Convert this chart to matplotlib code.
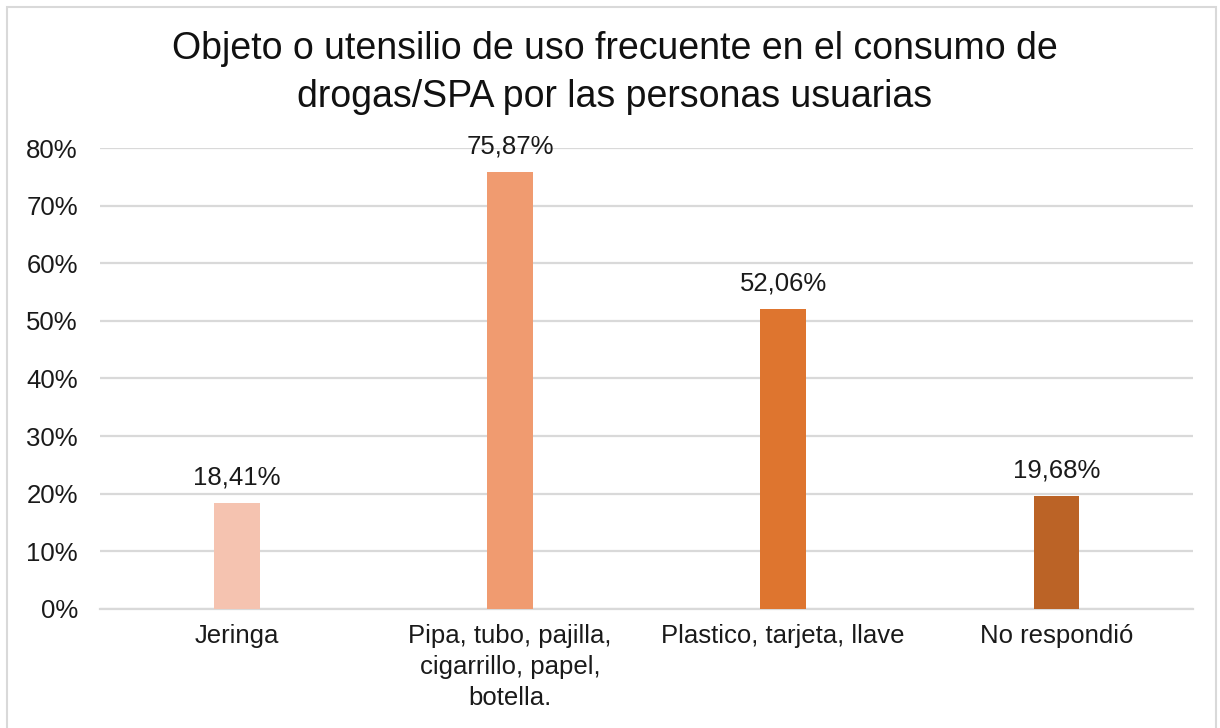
import matplotlib.pyplot as plt
from matplotlib.patches import Rectangle

categorias = ['Jeringa', 'Pipa, tubo, pajilla,\ncigarrillo, papel,\nbotella.',
              'Plastico, tarjeta, llave', 'No respondió']
valores = [18.41, 75.87, 52.06, 19.68]
etiquetas = ['18,41%', '75,87%', '52,06%', '19,68%']
colores = ['#F5C3B0', '#F09B70', '#DE752F', '#BB6326']
ticks_y = [0, 10, 20, 30, 40, 50, 60, 70, 80]

plt.rcParams['font.family'] = ['Liberation Sans', 'DejaVu Sans']

fig = plt.figure(figsize=(12.2, 7.28), dpi=100)
ax = fig.add_axes([0.082, 0.1635, 0.896, 0.6332])

x = list(range(len(categorias)))
ax.bar(x, valores, width=0.168, color=colores, zorder=3)

# etiquetas de datos encima de cada barra
for xi, v, t in zip(x, valores, etiquetas):
    ax.annotate(t, (xi, v), xytext=(0, 9.5), textcoords='offset points',
                ha='center', va='bottom', fontsize=18.5, color='#1A1A1A')

ax.set_xlim(-0.5, 3.5)
ax.set_ylim(0, 80)
ax.set_yticks(ticks_y)
ax.set_yticklabels([f'{t}%' for t in ticks_y], fontsize=18.5, color='#1A1A1A')
ax.set_xticks(x)
ax.set_xticklabels(categorias, fontsize=18.5, color='#1A1A1A', linespacing=1.35)
ax.tick_params(axis='both', length=0)
ax.tick_params(axis='y', pad=16)
ax.tick_params(axis='x', pad=11)
ax.grid(axis='y', color='#D9D9D9', linewidth=1.6, zorder=0)
for s in ['top', 'right', 'left']:
    ax.spines[s].set_visible(False)
ax.spines['bottom'].set_color('#D9D9D9')
ax.spines['bottom'].set_linewidth(1.6)

fig.text(0.504, 0.9, 'Objeto o utensilio de uso frecuente en el consumo de\ndrogas/SPA por las personas usuarias',
         ha='center', va='center', fontsize=27, linespacing=1.42, color='#111111')

# marco del grafico
fig.patches.append(Rectangle((0.006, -0.02), 0.991, 1.01, transform=fig.transFigure,
                             fill=False, edgecolor='#D9D9D9', linewidth=1.5))

fig.savefig('out.png', dpi=100)
